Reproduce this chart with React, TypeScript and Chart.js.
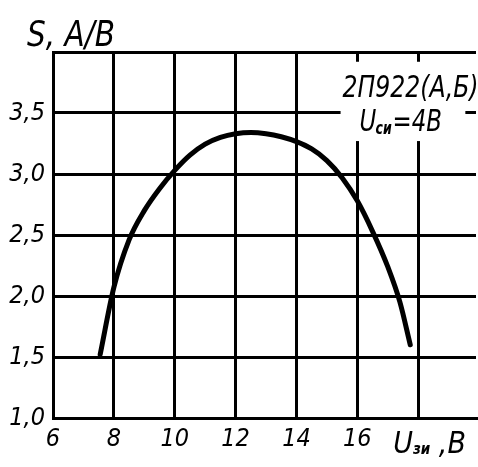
import React, { useEffect, useRef } from 'react';
import { Chart, registerables } from 'chart.js';
Chart.register(...registerables);

const uValues = [7.55, 8, 8.5, 9, 9.5, 10, 10.5, 11, 11.5, 12, 12.5, 13, 13.5, 14, 14.5, 15, 15.5, 16, 16.5, 17, 17.4, 17.74];
const sValues = [1.52, 2.07, 2.46, 2.7, 2.88, 3.03, 3.155, 3.245, 3.3, 3.33, 3.34, 3.33, 3.305, 3.265, 3.205, 3.11, 2.97, 2.78, 2.53, 2.24, 1.95, 1.6];
const xTicks = [6, 8, 10, 12, 14, 16, 18];
const yTicks = [1.0, 1.5, 2.0, 2.5, 3.0, 3.5, 4.0];
const yTitle = 'S, А/В';
const deviceName = '2П922(А,Б)';

const FAM = '"Liberation Sans Narrow", "DejaVu Sans Condensed", "Liberation Sans", sans-serif';

function fitText(ctx: CanvasRenderingContext2D, text: string, x: number, y: number, w: number) {
  const m = ctx.measureText(text).width;
  ctx.save();
  ctx.translate(x, y);
  ctx.scale(w / m, 1);
  ctx.fillText(text, 0, 0);
  ctx.restore();
}

const textPlugin = {
  id: 'textPlugin',
  afterDraw(chart: any) {
    const ctx = chart.ctx as CanvasRenderingContext2D;
    const xs = chart.scales.x;
    const ys = chart.scales.y;
    ctx.save();
    ctx.fillStyle = '#fff';
    const bx0 = xs.getPixelForValue(15.45);
    const bx1 = xs.getPixelForValue(19.55);
    const by0 = ys.getPixelForValue(3.92);
    const by1 = ys.getPixelForValue(3.27);
    ctx.fillRect(bx0, by0, bx1 - bx0, by1 - by0);
    ctx.fillStyle = '#000';
    ctx.textBaseline = 'alphabetic';
    ctx.textAlign = 'left';
    // device label
    ctx.font = `italic 30px ${FAM}`;
    fitText(ctx, deviceName, bx0 + 2, ys.getPixelForValue(3.63), 136);
    // Uси=4В
    const base = ys.getPixelForValue(3.35);
    ctx.save();
    ctx.translate(bx0 + 19, base);
    ctx.scale(0.82, 1);
    let x = 0;
    ctx.font = `italic 31px ${FAM}`;
    ctx.fillText('U', x, 0);
    x += ctx.measureText('U').width;
    ctx.font = `italic bold 17px ${FAM}`;
    ctx.fillText('си', x - 1, 3);
    x += ctx.measureText('си').width;
    ctx.font = `italic 31px ${FAM}`;
    ctx.fillText('=4В', x, 0);
    ctx.restore();
    // y title
    ctx.font = `italic 35px ${FAM}`;
    fitText(ctx, yTitle, 27, 46, 88);
    // x title
    ctx.save();
    ctx.translate(xs.getPixelForValue(18) - 25, 453);
    let tx = 0;
    ctx.font = `italic 30px ${FAM}`;
    ctx.fillText('U', tx, 0);
    tx += ctx.measureText('U').width;
    ctx.font = `italic bold 15px ${FAM}`;
    ctx.fillText('зи', tx, 1);
    tx += ctx.measureText('зи').width;
    ctx.font = `italic 30px ${FAM}`;
    ctx.fillText(' ,В', tx, 0);
    ctx.restore();
    ctx.restore();
  },
};

export default function App() {
  const ref = useRef<HTMLCanvasElement>(null);
  useEffect(() => {
    if (!ref.current) return;
    const chart = new Chart(ref.current, {
      type: 'line',
      data: {
        datasets: [
          {
            data: uValues.map((u, i) => ({ x: u, y: sValues[i] })),
            borderColor: '#000',
            borderWidth: 5,
            pointRadius: 0,
            cubicInterpolationMode: 'monotone',
            borderCapStyle: 'round',
            fill: false,
          },
        ],
      },
      options: {
        animation: false,
        responsive: false,
        devicePixelRatio: 1,
        layout: { padding: { top: 52, right: 2, left: 0, bottom: 0 } },
        plugins: { legend: { display: false }, tooltip: { enabled: false } },
        scales: {
          x: {
            type: 'linear',
            min: 6,
            max: 19.9,
            afterBuildTicks: (s: any) => {
              s.ticks = xTicks.map((v) => ({ value: v }));
            },
            afterFit: (s: any) => {
              s.height = 49;
            },
            ticks: {
              callback: (v: any) => (v === 18 ? '' : String(v)),
              color: '#000',
              font: { family: FAM, size: 25, style: 'italic' },
              padding: 6,
              maxRotation: 0,
              autoSkip: false,
            },
            grid: { color: '#000', lineWidth: 3, drawTicks: false },
            border: { color: '#000', width: 3 },
          },
          y: {
            type: 'linear',
            min: 1,
            max: 4,
            afterBuildTicks: (s: any) => {
              s.ticks = yTicks.map((v) => ({ value: v }));
            },
            afterFit: (s: any) => {
              s.width = 53;
            },
            ticks: {
              callback: (v: any) => (v === 4 ? '' : Number(v).toFixed(1).replace('.', ',')),
              color: '#000',
              font: { family: FAM, size: 25, style: 'italic' },
              padding: 8,
              autoSkip: false,
            },
            grid: { color: '#000', lineWidth: 3, drawTicks: false },
            border: { color: '#000', width: 3 },
          },
        },
      },
      plugins: [textPlugin],
    } as any);
    return () => chart.destroy();
  }, []);
  return (
    <div style={{ position: 'fixed', left: 0, top: 0, width: 478, height: 467, background: '#fff' }}>
      <canvas ref={ref} width={478} height={467} style={{ width: 478, height: 467 }} />
    </div>
  );
}
